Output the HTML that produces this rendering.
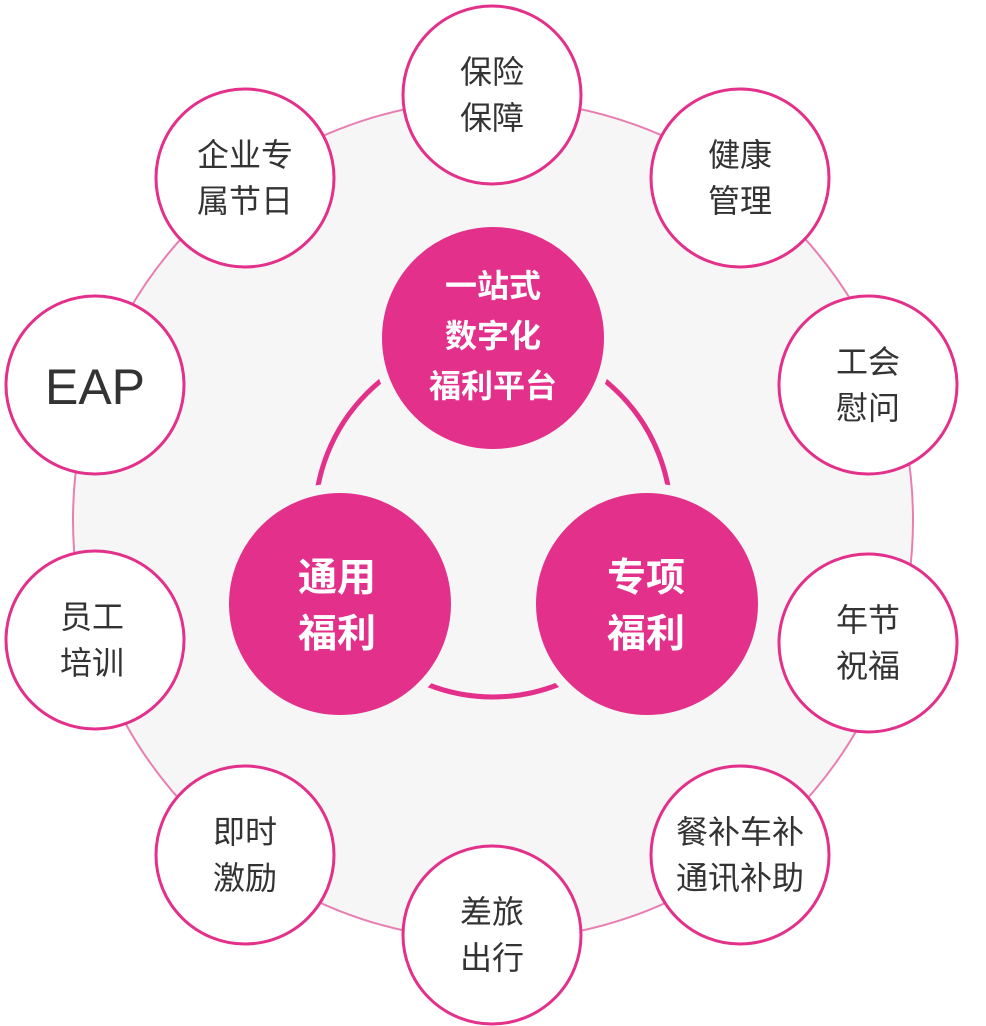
<!DOCTYPE html>
<html><head><meta charset="utf-8"><style>
html,body{margin:0;padding:0;background:#fff;width:986px;height:1026px;overflow:hidden}
svg text{font-family:"Liberation Sans","Noto Sans CJK SC",sans-serif}
</style></head><body>
<svg width="986" height="1026" viewBox="0 0 986 1026">
<circle cx="493" cy="520" r="420" fill="#f6f6f6" stroke="#e87fb2" stroke-width="2"/>
<circle cx="493" cy="519" r="178" fill="none" stroke="#e3308a" stroke-width="5"/>
<g fill="#e3308a" stroke="#f6f6f6" stroke-width="10">
<circle cx="493" cy="338" r="116"/>
<circle cx="340" cy="604" r="116"/>
<circle cx="647" cy="604" r="116"/>
</g>
<g fill="#fff" font-weight="bold" text-anchor="middle">
<text x="493" y="297" font-size="32">一站式</text>
<text x="493" y="347" font-size="32">数字化</text>
<text x="493" y="397" font-size="32">福利平台</text>
<text x="337" y="591" font-size="39">通用</text>
<text x="337" y="647" font-size="39">福利</text>
<text x="646" y="591" font-size="39">专项</text>
<text x="646" y="647" font-size="39">福利</text>
</g>
<g fill="#fff" stroke="#e3308a" stroke-width="3">
<circle cx="492" cy="95" r="89"/>
<circle cx="740" cy="178" r="89"/>
<circle cx="868" cy="385" r="89"/>
<circle cx="868" cy="643" r="89"/>
<circle cx="740" cy="855" r="89"/>
<circle cx="492" cy="935" r="89"/>
<circle cx="245" cy="855" r="89"/>
<circle cx="95" cy="640" r="89"/>
<circle cx="95" cy="385" r="89"/>
<circle cx="245" cy="178" r="89"/>
</g>
<g fill="#333" font-size="32" text-anchor="middle">
<text x="492" y="83">保险</text><text x="492" y="129">保障</text>
<text x="740" y="166">健康</text><text x="740" y="212">管理</text>
<text x="868" y="373">工会</text><text x="868" y="419">慰问</text>
<text x="868" y="631">年节</text><text x="868" y="677">祝福</text>
<text x="740" y="843">餐补车补</text><text x="740" y="889">通讯补助</text>
<text x="492" y="923">差旅</text><text x="492" y="969">出行</text>
<text x="245" y="843">即时</text><text x="245" y="889">激励</text>
<text x="92" y="628">员工</text><text x="92" y="674">培训</text>
<text x="245" y="166">企业专</text><text x="245" y="212">属节日</text>
<text x="95" y="404" font-size="50">EAP</text>
</g>
</svg>
</body></html>
